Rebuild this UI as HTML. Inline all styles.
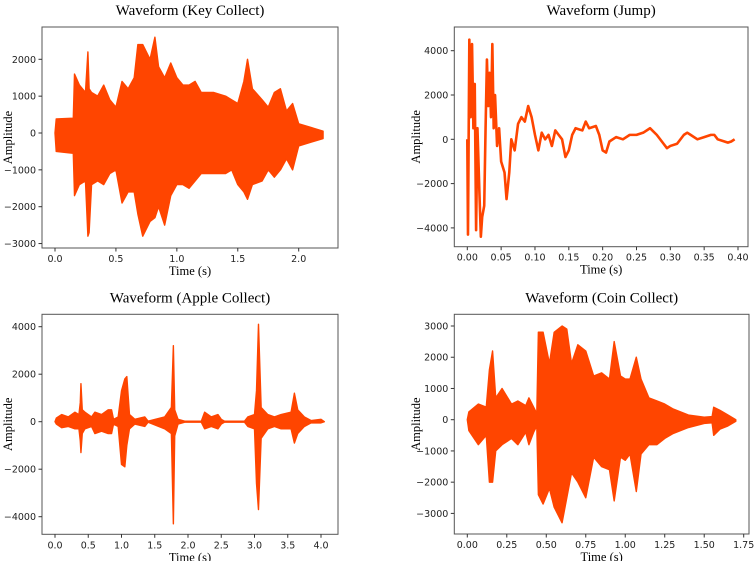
<!DOCTYPE html>
<html><head><meta charset="utf-8"><style>
body{margin:0;background:#fff;}
svg{display:block;}
.tk{font-family:"DejaVu Sans","Liberation Sans",sans-serif;font-size:9.5px;fill:#222;}
.ti{font-family:"Liberation Serif",serif;font-size:15px;fill:#000;}
.al{font-family:"Liberation Serif",serif;font-size:12.5px;fill:#000;}
</style></head><body>
<svg id="fig" width="754" height="561" viewBox="0 0 754 561" xmlns="http://www.w3.org/2000/svg"></svg>
<script>
// Key Collect envelope
const keyT=[0,0.01,0.15,0.16,0.2,0.25,0.27,0.28,0.3,0.35,0.4,0.45,0.5,0.55,0.6,0.65,0.68,0.72,0.78,0.82,0.85,0.9,0.95,1.0,1.05,1.1,1.15,1.2,1.3,1.4,1.45,1.5,1.55,1.58,1.62,1.7,1.75,1.8,1.85,1.9,1.95,2.0,2.1,2.2];
const keyMax=[0,380,400,1600,1300,1100,2200,1200,1100,1000,1300,900,700,1400,1200,1500,2400,2400,2000,2600,1800,1500,1900,1500,1300,1300,1400,1100,1100,1000,900,800,1400,2000,1200,900,700,1100,1200,600,800,250,150,50];
const keyMin=[0,-500,-550,-1700,-1400,-1300,-2800,-2700,-1400,-1300,-1400,-1100,-1000,-1900,-1600,-1600,-2200,-2800,-2400,-2300,-2000,-2500,-1700,-1400,-1400,-1500,-1300,-1100,-1100,-1100,-1000,-1400,-1600,-1800,-1400,-1300,-1000,-1200,-1000,-700,-1000,-350,-250,-150];
// Jump line
const jumpT=[0,0.001,0.003,0.005,0.007,0.009,0.011,0.013,0.015,0.018,0.02,0.022,0.025,0.027,0.029,0.031,0.033,0.035,0.037,0.039,0.041,0.044,0.047,0.05,0.055,0.058,0.062,0.065,0.07,0.075,0.08,0.085,0.09,0.095,0.1,0.105,0.11,0.115,0.12,0.125,0.13,0.135,0.14,0.145,0.15,0.155,0.16,0.17,0.175,0.18,0.19,0.195,0.2,0.205,0.21,0.22,0.23,0.24,0.25,0.26,0.27,0.28,0.29,0.295,0.3,0.31,0.32,0.325,0.33,0.34,0.35,0.36,0.365,0.37,0.38,0.385,0.39,0.395];
const jumpV=[0,-4300,4500,1000,4300,500,2500,-4100,500,-2500,-4400,-3500,-3000,500,3600,1500,3000,1000,4300,500,2000,-300,500,-1000,-1500,-2700,-1500,0,-500,700,1000,800,1500,1000,200,-500,300,0,200,-300,400,200,0,-800,-500,200,500,400,800,500,600,200,-500,-600,-100,100,0,200,200,300,500,200,-200,-400,-300,-200,200,300,200,0,100,200,200,0,-100,-150,-100,0];
// Apple Collect envelope
const appleT=[0,0.02,0.1,0.2,0.3,0.36,0.38,0.39,0.41,0.45,0.55,0.6,0.7,0.8,0.85,0.88,0.95,1.0,1.05,1.08,1.12,1.2,1.35,1.4,1.65,1.75,1.78,1.8,1.85,1.95,2.2,2.25,2.35,2.45,2.5,2.55,2.85,2.9,3.0,3.03,3.06,3.1,3.2,3.3,3.4,3.55,3.6,3.65,3.75,3.85,4.0,4.05];
const appleMax=[0,150,300,200,400,300,800,1600,500,400,200,400,300,500,500,100,200,1300,1800,1900,300,100,200,20,200,600,3200,500,100,20,20,400,200,300,100,20,20,200,300,1300,4100,600,300,200,300,400,1200,500,200,50,100,0];
const appleMin=[0,-100,-250,-200,-300,-300,-800,-1300,-500,-300,-200,-500,-400,-500,-500,-100,-200,-1800,-1900,-1000,-300,-100,-200,-20,-300,-500,-4300,-600,-100,-20,-20,-300,-200,-300,-100,-20,-20,-200,-300,-2600,-3700,-700,-300,-200,-300,-300,-900,-500,-200,-50,-50,0];
// Coin Collect envelope
const coinT=[0,0.01,0.07,0.12,0.14,0.16,0.18,0.22,0.28,0.32,0.37,0.39,0.42,0.44,0.45,0.48,0.52,0.55,0.6,0.63,0.66,0.7,0.75,0.8,0.85,0.9,0.93,0.97,1.0,1.03,1.07,1.1,1.15,1.2,1.25,1.3,1.4,1.5,1.55,1.56,1.6,1.65,1.7];
const coinMax=[0,250,500,400,1600,2200,700,1000,500,600,450,700,400,200,2800,2800,1800,2800,3000,2900,1800,2400,2200,1400,1500,1300,2500,1400,1300,1300,2000,1300,700,600,500,350,150,80,100,400,300,150,0];
const coinMin=[0,-350,-800,-500,-2000,-2000,-1000,-800,-600,-800,-400,-800,-400,-200,-2400,-2700,-2200,-2800,-3300,-2500,-1700,-2000,-2500,-1200,-1500,-1600,-2600,-1200,-1300,-1100,-2300,-1100,-800,-800,-600,-450,-250,-120,-100,-500,-300,-200,-50];

const xTicksKey=[0,0.5,1,1.5,2], yTicksKey=[-3000,-2000,-1000,0,1000,2000];
const xTicksJump=[0,0.05,0.1,0.15,0.2,0.25,0.3,0.35,0.4], yTicksJump=[-4000,-2000,0,2000,4000];
const xTicksApple=[0,0.5,1,1.5,2,2.5,3,3.5,4], yTicksApple=[-4000,-2000,0,2000,4000];
const xTicksCoin=[0,0.25,0.5,0.75,1,1.25,1.5,1.75], yTicksCoin=[-3000,-2000,-1000,0,1000,2000,3000];

const NS="http://www.w3.org/2000/svg", fig=document.getElementById('fig');
const C='#ff4500';
function mk(tag,attrs,parent){const e=document.createElementNS(NS,tag);for(const k in attrs)e.setAttribute(k,attrs[k]);(parent||fig).appendChild(e);return e;}
function panel(o){
  const g=mk('g',{});
  
  
  const sx=v=>o.x0px+(v-o.x0v)*(o.x1px-o.x0px)/(o.x1v-o.x0v);
  const sy=v=>o.y0px+(v-o.y0v)*(o.y1px-o.y0px)/(o.y1v-o.y0v);
  if(o.line){
    let d=o.T.map((t,i)=>(i?'L':'M')+sx(t).toFixed(2)+','+sy(o.V[i]).toFixed(2)).join('');
    const p=mk('path',{d:d,fill:'none',stroke:C,'stroke-width':2.6,'stroke-linejoin':'round'},g);
    
    
  } else {
    let d=o.T.map((t,i)=>(i?'L':'M')+sx(t).toFixed(2)+','+sy(o.MX[i]).toFixed(2)).join('');
    for(let i=o.T.length-1;i>=0;i--) d+='L'+sx(o.T[i]).toFixed(2)+','+sy(o.MN[i]).toFixed(2);
    const p=mk('path',{d:d+'Z',fill:C,stroke:C,'stroke-width':1.4,'stroke-linejoin':'round'},g);
    
    
  }
  const fr=mk('rect',{x:o.L,y:o.T0,width:o.R-o.L,height:o.B-o.T0,fill:'none',stroke:'#555','stroke-width':1},g);
  
  
  o.xt.forEach(v=>{const x=sx(v);mk('line',{x1:x,x2:x,y1:o.B,y2:o.B+3.5,stroke:'#333'},g);
    const t=mk('text',{x:x,y:o.B+14,'text-anchor':'middle',class:'tk'},g);t.textContent=v.toFixed(o.xd);
    
    });
  o.yt.forEach(v=>{const y=sy(v);mk('line',{x1:o.L-3.5,x2:o.L,y1:y,y2:y,stroke:'#333'},g);
    const t=mk('text',{x:o.L-6,y:y+3.5,'text-anchor':'end',class:'tk'},g);t.textContent=(v<0?'\u2212':'')+Math.abs(v);
    
    });
  const ti=mk('text',{x:(o.L+o.R)/2,y:o.T0-12,'text-anchor':'middle',class:'ti'},g);ti.textContent=o.title;
  
  
  const xl=mk('text',{x:(o.L+o.R)/2,y:o.B+27,'text-anchor':'middle',class:'al'},g);xl.textContent='Time (s)';
  
  
  const cy=(o.T0+o.B)/2;
  const yl=mk('text',{x:0,y:0,'text-anchor':'middle',class:'al',transform:`translate(${o.yl},${cy}) rotate(-90)`},g);yl.textContent='Amplitude';
  
  
}
panel({name:'key-collect-panel',title:'Waveform (Key Collect)',T:keyT,MX:keyMax,MN:keyMin,L:42,R:338,T0:27,B:248,yl:12,
  x0v:0,x0px:55,x1v:2,x1px:298.7,y0v:0,y0px:133,y1v:2000,y1px:59.3,xt:xTicksKey,yt:yTicksKey,xd:1});
panel({name:'jump-panel',title:'Waveform (Jump)',line:true,T:jumpT,V:jumpV,L:454.3,R:748,T0:27,B:246.7,yl:420,
  x0v:0,x0px:467.3,x1v:0.4,x1px:738,y0v:0,y0px:139.3,y1v:4000,y1px:50.7,xt:xTicksJump,yt:yTicksJump,xd:2});
panel({name:'apple-collect-panel',title:'Waveform (Apple Collect)',T:appleT,MX:appleMax,MN:appleMin,L:42,R:338,T0:314.3,B:534.3,yl:12,
  x0v:0,x0px:55,x1v:4,x1px:321,y0v:0,y0px:421.7,y1v:4000,y1px:326.7,xt:xTicksApple,yt:yTicksApple,xd:1});
panel({name:'coin-collect-panel',title:'Waveform (Coin Collect)',T:coinT,MX:coinMax,MN:coinMin,L:454.3,R:749,T0:314.3,B:534,yl:420,
  x0v:0,x0px:467.3,x1v:1.75,x1px:743.7,y0v:0,y0px:419.7,y1v:3000,y1px:326,xt:xTicksCoin,yt:yTicksCoin,xd:2});
</script>
</body></html>
